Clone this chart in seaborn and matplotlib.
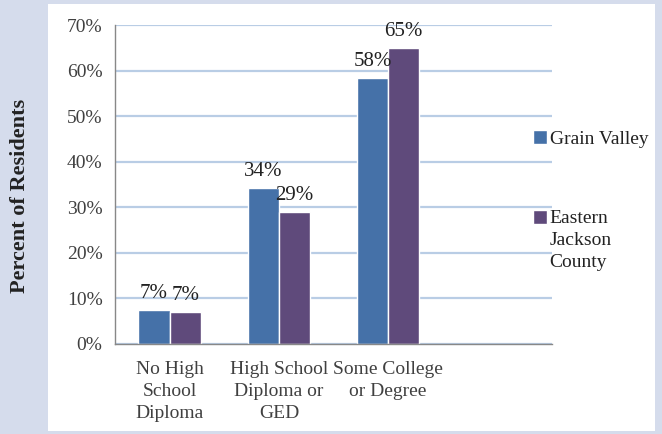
import matplotlib
matplotlib.use("Agg")
import matplotlib.pyplot as plt
import seaborn as sns
import pandas as pd
from matplotlib.patches import Rectangle
from matplotlib.legend_handler import HandlerPatch

categories = ["No High\nSchool\nDiploma", "High School\nDiploma or\nGED", "Some College\nor Degree", ""]
series_names = ["Grain Valley", "Eastern\nJackson\nCounty"]
grain_valley = [7.4, 34.2, 58.4]
eastern_jackson = [7.0, 29.0, 65.0]
y_ticks = [0, 10, 20, 30, 40, 50, 60, 70]
colors = ["#4571a8", "#5f4a7b"]

rows = []
for c, v in zip(categories[:3], grain_valley):
    rows.append({"cat": c, "series": series_names[0], "val": v})
for c, v in zip(categories[:3], eastern_jackson):
    rows.append({"cat": c, "series": series_names[1], "val": v})
df = pd.DataFrame(rows)

sns.set_style("white")
FAM = ["Liberation Serif", "DejaVu Serif"]
plt.rcParams["font.family"] = FAM
plt.rcParams["font.serif"] = FAM

fig = plt.figure(figsize=(6.62, 4.34), dpi=100)
fig.patch.set_facecolor("#d5dcec")
bg = fig.add_axes([48 / 662, 1 - 431 / 434, 607 / 662, 427 / 434], zorder=-10)
bg.set_facecolor("white")
bg.set_xticks([])
bg.set_yticks([])
for s in bg.spines.values():
    s.set_visible(False)

ax = fig.add_axes([115 / 662, 1 - 344 / 434, 437 / 662, 319 / 434], zorder=1)
ax.set_facecolor("none")

sns.barplot(data=df, x="cat", y="val", hue="series", order=categories,
            hue_order=series_names, palette=colors, width=0.57,
            ax=ax, saturation=1, errorbar=None, legend=False)

for cont in ax.containers:
    ax.bar_label(cont, labels=[f"{b.get_height():.0f}%" for b in cont],
                 padding=5, fontsize=15, color="#222222", family=FAM)

ax.set_ylim(0, 70)
ax.set_xlim(-0.5, 3.5)
ax.set_yticks(y_ticks)
ax.set_yticklabels([f"{t}%" for t in y_ticks], fontsize=14, color="#404040", family=FAM)
ax.yaxis.grid(True, color="#b9cde5", linewidth=1.6)
ax.set_axisbelow(True)
for s in ["top", "right"]:
    ax.spines[s].set_visible(False)
for s in ["left", "bottom"]:
    ax.spines[s].set_color("#888888")
    ax.spines[s].set_linewidth(1.0)
ax.tick_params(axis="y", which="major", length=5, color="#888888", width=1, pad=4)

ax.set_xticks(range(len(categories)))
ax.set_xticklabels(categories, fontsize=14, color="#404040", linespacing=1.4, family=FAM)
ax.set_xticks([-0.5, 0.5, 1.5, 2.5, 3.5], minor=True)
ax.tick_params(axis="x", which="major", length=0, pad=12)
ax.tick_params(axis="x", which="minor", length=6, color="#888888", width=1, direction="out")
ax.set_xlabel("")
ax.set_ylabel("")

fig.text(20 / 662, 1 - 196 / 434, "Percent of Residents", rotation=90,
         fontsize=16, fontweight="bold", ha="center", va="center", color="#222222",
         family=FAM)


def top_patch(legend, orig_handle, xdescent, ydescent, width, height, fontsize):
    off = 0.0 if orig_handle is handles[0] else 16.6
    return Rectangle((-xdescent, -ydescent + off), width, height)


handles = [cont.patches[0] for cont in ax.containers]
leg = ax.legend(handles, series_names, loc="upper left",
                bbox_to_anchor=(533 / 662, 1 - 130 / 434), bbox_transform=fig.transFigure,
                frameon=False, prop={"family": FAM, "size": 14},
                handlelength=0.7, handleheight=0.7,
                handletextpad=0.15, labelspacing=3.2, borderaxespad=0, borderpad=0,
                handler_map={h: HandlerPatch(patch_func=top_patch) for h in handles})
for t in leg.get_texts():
    t.set_linespacing(1.4)
    t.set_color("#222222")

fig.savefig("out.png", dpi=100, facecolor=fig.get_facecolor())
